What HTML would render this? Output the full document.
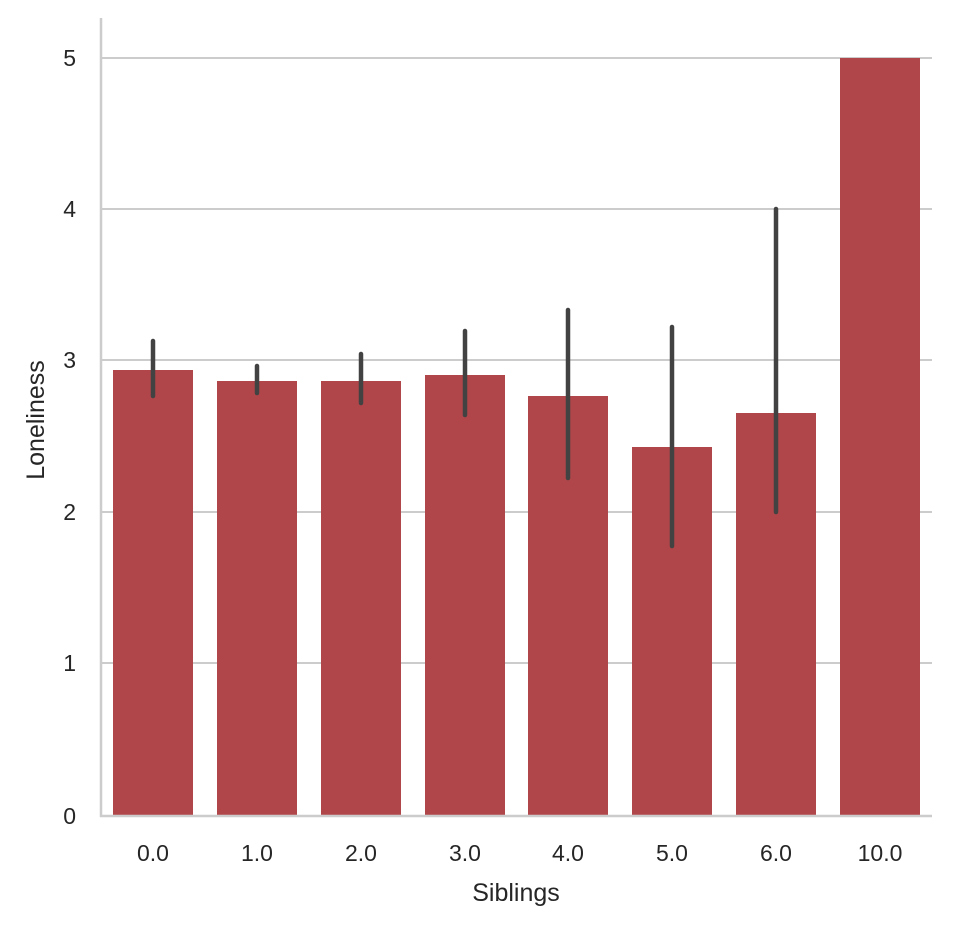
<!DOCTYPE html><html><head><style>body{margin:0;background:#fff}svg text{font-family:"Liberation Sans",Arial,sans-serif;fill:#262626}</style></head><body>
<svg width="969" height="928" xmlns="http://www.w3.org/2000/svg">
<g stroke="#cccccc" stroke-width="2">
<line x1="101" y1="58" x2="932" y2="58"/><line x1="101" y1="209" x2="932" y2="209"/><line x1="101" y1="360" x2="932" y2="360"/><line x1="101" y1="512" x2="932" y2="512"/><line x1="101" y1="663" x2="932" y2="663"/>
</g>
<g fill="#b0464a">
<rect x="113" y="370" width="80" height="446"/>
<rect x="217" y="381" width="80" height="435"/>
<rect x="321" y="381" width="80" height="435"/>
<rect x="425" y="375" width="80" height="441"/>
<rect x="528" y="396" width="80" height="420"/>
<rect x="632" y="447" width="80" height="369"/>
<rect x="736" y="413" width="80" height="403"/>
<rect x="840" y="58" width="80" height="758"/>
</g>
<g stroke="#424242" stroke-width="4.5" stroke-linecap="round">
<line x1="153" y1="341" x2="153" y2="396"/>
<line x1="257" y1="366" x2="257" y2="393"/>
<line x1="361" y1="354" x2="361" y2="403"/>
<line x1="465" y1="331" x2="465" y2="415"/>
<line x1="568" y1="310" x2="568" y2="478"/>
<line x1="672" y1="327" x2="672" y2="546"/>
<line x1="776" y1="209" x2="776" y2="512"/>
</g>
<g stroke="#cccccc" stroke-width="2.5"><line x1="101" y1="18" x2="101" y2="817"/><line x1="100" y1="816" x2="932" y2="816"/></g>
<g font-size="23" text-anchor="end"><text x="76" y="66">5</text><text x="76" y="217">4</text><text x="76" y="368">3</text><text x="76" y="520">2</text><text x="76" y="671">1</text><text x="76" y="824">0</text></g>
<g font-size="23" text-anchor="middle"><text x="153" y="861">0.0</text><text x="257" y="861">1.0</text><text x="361" y="861">2.0</text><text x="465" y="861">3.0</text><text x="568" y="861">4.0</text><text x="672" y="861">5.0</text><text x="776" y="861">6.0</text><text x="880" y="861">10.0</text>
<text x="516" y="901" font-size="25">Siblings</text>
<text transform="translate(44,420) rotate(-90)" font-size="25">Loneliness</text></g>
</svg></body></html>
